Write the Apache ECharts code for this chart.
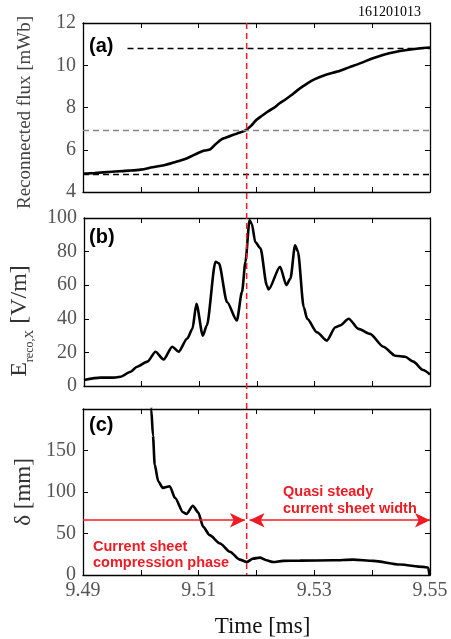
<!DOCTYPE html>
<html><head><meta charset="utf-8">
<script src="https://cdn.jsdelivr.net/npm/echarts@6/dist/echarts.min.js"></script>
<style>html,body{margin:0;padding:0;background:#fff}#c{width:451px;height:639px}</style>
</head><body><div id="c"></div>
<script>
// ---- data ----
const fluxT = [9.490,9.492,9.495,9.498,9.500,9.502,9.504,9.506,9.508,9.510,9.511,9.512,9.513,9.514,9.515,9.516,9.517,9.518,9.519,9.520,9.521,9.522,9.523,9.524,9.525,9.526,9.527,9.528,9.529,9.530,9.532,9.534,9.536,9.538,9.540,9.542,9.544,9.546,9.548,9.550];
const fluxV = [4.87,4.90,4.96,5.01,5.06,5.17,5.27,5.42,5.60,5.86,5.96,6.02,6.28,6.50,6.60,6.71,6.80,6.90,7.12,7.42,7.62,7.82,7.98,8.20,8.38,8.58,8.80,9.00,9.18,9.33,9.55,9.70,9.90,10.10,10.32,10.50,10.63,10.72,10.79,10.84];

const eT = [9.4900,9.4929,9.4952,9.4963,9.4981,9.4992,9.5010,9.5024,9.5038,9.5053,9.5064,9.5079,9.5088,9.5095,9.5106,9.5113,9.5128,9.5134,9.5148,9.5165,9.5174,9.5180,9.5187,9.5191,9.5197,9.5206,9.5217,9.5220,9.5240,9.5251,9.5258,9.5266,9.5271,9.5281,9.5287,9.5304,9.5321,9.5336,9.5344,9.5359,9.5376,9.5396,9.5419,9.5440,9.5457,9.5471,9.5488,9.5500];
const eV = [3.6,5.0,5.0,5.5,8.5,11.5,14.5,20.4,15.8,23.4,20.4,28.3,34,49,30,36,74,73,50,39,56,74,98.6,96.6,85.7,82,60,57.4,71,60,64,83.8,80,47,40,32,27,35,36,40,34,31,23.4,18,17.4,14.5,9.5,6.9];

const dT = [9.5017,9.5018,9.5021,9.5024,9.5030,9.5038,9.5050,9.5059,9.5073,9.5079,9.5090,9.5099,9.5108,9.5119,9.5137,9.5154,9.5171,9.5183,9.5194,9.5206,9.5217,9.5229,9.5246,9.5275,9.5333,9.5367,9.5402,9.5448,9.5488,9.5497,9.5499];
const dV = [230,200,168,133,113,105,107,93,75.6,73.6,83.5,75.6,58,48,38,28,18.5,15.7,19.7,20.9,17.7,15.7,17,17.3,17.7,18.5,17,12.6,9.8,8.7,0];

const xTickLabels = ['9.49','9.51','9.53','9.55'];
const tRef = 9.5183;          // red dashed reference time
const fluxTop = 10.8, fluxMid = 6.9, fluxLow = 4.85, fluxTopStart = 9.4977;
const arrowY = 66, arrowLeftEnd = 9.5180, arrowRightStart = 9.5188;

const pairs = (t, v) => t.map((x, i) => [x, v[i]]);

// ---- styles ----
const SERIF = '"Liberation Serif","Times New Roman",serif';
const SANS = '"Liberation Sans",Arial,sans-serif';
const RED = '#ee1c25';
const grids = [
  {left: 83, right: 21, top: 23, height: 169},
  {left: 83, right: 21, top: 218, height: 168},
  {left: 83, right: 21, top: 409, height: 168}
];
const lineAx = {show: true, onZero: false, lineStyle: {color: '#000', width: 1.3}};
const tickAx = {show: true, inside: true, length: 5, lineStyle: {color: '#000', width: 1}};

const xAxes = [];
grids.forEach((g, i) => {
  ['bottom', 'top'].forEach(pos => {
    xAxes.push({
      type: 'value', gridIndex: i, position: pos, min: 9.49, max: 9.55, interval: 0.01,
      axisLine: lineAx, axisTick: tickAx, splitLine: {show: false},
      axisLabel: {
        show: i === 2 && pos === 'bottom', color: '#555', fontFamily: SERIF, fontSize: 20, margin: 6,
        formatter: v => { const s = v.toFixed(2); return xTickLabels.indexOf(s) >= 0 ? s : ''; }
      },
      name: (i === 2 && pos === 'bottom') ? 'Time [ms]' : '',
      nameLocation: 'middle', nameGap: 40,
      nameTextStyle: {fontFamily: SERIF, fontSize: 23, color: '#111', padding: [0, 0, 0, 12]}
    });
  });
});

const yDefs = [
  {min: 4, max: 12, interval: 2, name: 'Reconnected flux [mWb]', gap: 48,
   nts: {fontFamily: SERIF, fontSize: 19, color: '#444', padding: [0, 10, 0, 0]}},
  {min: 0, max: 100, interval: 20, name: '{e|E}{s|reco,X}{e| [V/m]}', gap: 52,
   nts: {fontFamily: SERIF, color: '#333', padding: [0, 38, 0, 0],
     rich: {e: {fontFamily: SERIF, fontSize: 24, color: '#333', lineHeight: 26, verticalAlign: 'bottom'},
            s: {fontFamily: SERIF, fontSize: 12, color: '#333', lineHeight: 26, verticalAlign: 'bottom', padding: [0, 0, -4, 0]}}}},
  {min: 0, max: 200, interval: 50, name: 'δ [mm]', gap: 48, hideMax: true,
   nts: {fontFamily: SERIF, fontSize: 23, color: '#333'}}
];
const yAxes = [];
yDefs.forEach((d, i) => {
  ['left', 'right'].forEach(pos => {
    yAxes.push({
      type: 'value', gridIndex: i, position: pos, min: d.min, max: d.max, interval: d.interval,
      axisLine: lineAx, axisTick: tickAx, splitLine: {show: false},
      axisLabel: {show: pos === 'left', color: '#555', fontFamily: SERIF, fontSize: 20, margin: 7,
        formatter: v => (d.hideMax && v === d.max) ? '' : String(v)},
      name: pos === 'left' ? d.name : '', nameLocation: 'middle', nameGap: d.gap, nameTextStyle: d.nts
    });
  });
});

const dashBlack = {color: '#000', type: [6, 4], width: 1.3};
const dashGray = {color: '#888', type: [6, 4], width: 1.3};
const arrowStyle = {color: RED, type: 'solid', width: 1.5};

const option = {
  animation: false,
  backgroundColor: '#fff',
  grid: grids,
  xAxis: xAxes,
  yAxis: yAxes,
  series: [
    {type: 'line', xAxisIndex: 0, yAxisIndex: 0, data: pairs(fluxT, fluxV), showSymbol: false, smooth: 0.3,
     lineStyle: {color: '#000', width: 2.6}, z: 3,
     markLine: {silent: true, symbol: 'none', label: {show: false}, animation: false,
       data: [
         [{coord: [fluxTopStart, fluxTop], lineStyle: dashBlack}, {coord: [9.55, fluxTop]}],
         [{coord: [9.49, fluxMid], lineStyle: dashGray}, {coord: [9.55, fluxMid]}],
         [{coord: [9.49, fluxLow], lineStyle: dashBlack}, {coord: [9.55, fluxLow]}]
       ]}},
    {type: 'line', xAxisIndex: 2, yAxisIndex: 2, data: pairs(eT, eV), showSymbol: false, smooth: 0.25,
     smoothMonotone: 'x', lineStyle: {color: '#000', width: 2.6}},
    {type: 'line', xAxisIndex: 4, yAxisIndex: 4, data: pairs(dT, dV), showSymbol: false, smooth: 0.25,
     smoothMonotone: 'x', lineStyle: {color: '#000', width: 2.6}, clip: true,
     markLine: {silent: true, label: {show: false}, animation: false, symbolSize: [11, 15],
       data: [
         [{coord: [9.49, arrowY], symbol: 'none', lineStyle: arrowStyle},
          {coord: [arrowLeftEnd, arrowY], symbol: 'arrow', symbolSize: [11, 15]}],
         [{coord: [arrowRightStart, arrowY], symbol: 'arrow', symbolSize: [11, 15], lineStyle: arrowStyle},
          {coord: [9.55, arrowY], symbol: 'arrow', symbolSize: [11, 15]}]
       ]}}
  ]
};

const chart = echarts.init(document.getElementById('c'), null, {renderer: 'canvas'});
chart.setOption(option);

const px = chart.convertToPixel({xAxisIndex: 0, yAxisIndex: 0}, [tRef, 12]);
const pbot = chart.convertToPixel({xAxisIndex: 4, yAxisIndex: 4}, [tRef, 0]);
const txt = (x, y, text, style) => ({type: 'text', x, y, silent: true, z: 100, style: Object.assign({text}, style)});
chart.setOption({
  graphic: [
    {type: 'line', silent: true, z: 50, shape: {x1: px[0], y1: px[1], x2: pbot[0], y2: pbot[1]},
     style: {stroke: RED, lineWidth: 1.5, lineDash: [6, 4]}},
    txt(89, 46, '(a)', {font: 'bold 20px ' + SANS, fill: '#000', verticalAlign: 'middle'}),
    txt(89, 237, '(b)', {font: 'bold 20px ' + SANS, fill: '#000', verticalAlign: 'middle'}),
    txt(89, 425, '(c)', {font: 'bold 20px ' + SANS, fill: '#000', verticalAlign: 'middle'}),
    txt(421, 12, '161201013', {font: '14px ' + SERIF, fill: '#000', align: 'right', verticalAlign: 'middle'}),
    txt(283, 483, 'Quasi steady\ncurrent sheet width', {font: 'bold 14.5px ' + SANS, fill: RED, lineHeight: 17}),
    txt(93, 539, 'Current sheet\ncompression phase', {font: 'bold 14.5px ' + SANS, fill: RED, lineHeight: 16})
  ]
});
</script></body></html>
